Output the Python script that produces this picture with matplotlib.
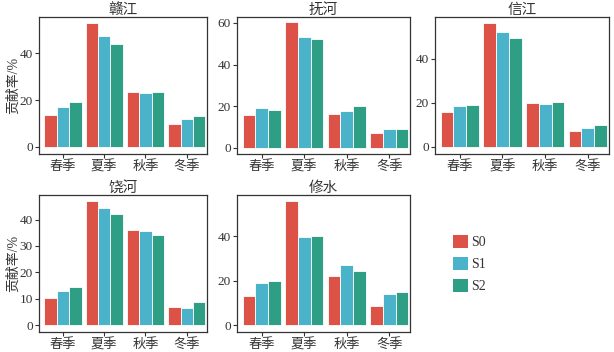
import numpy as np
import matplotlib
matplotlib.use('Agg')
from matplotlib import pyplot as plt
from matplotlib.patches import Patch

plt.rcParams['font.family'] = ['Liberation Serif', 'Noto Sans CJK SC']
plt.rcParams['font.size'] = 9

seasons = ['春季', '夏季', '秋季', '冬季']
scenarios = ['S0', 'S1', 'S2']
colors = ['#DC5246', '#4BB3C9', '#2E9E85']
txt = '#333333'

# contribution rate (%), rows = S0, S1, S2 ; columns = seasons
ganjiang = [[13.7, 53.0, 23.5, 9.8],
            [17.1, 47.6, 23.1, 12.0],
            [19.2, 43.9, 23.5, 13.2]]
fuhe     = [[16.0, 60.2, 16.5, 7.3],
            [19.4, 53.4, 17.5, 9.2],
            [18.0, 52.4, 19.9, 9.2]]
xinjiang = [[15.9, 56.4, 20.0, 7.3],
            [18.6, 52.3, 19.5, 8.6],
            [19.1, 49.5, 20.5, 10.0]]
raohe    = [[10.1, 47.1, 36.1, 6.9],
            [13.0, 44.4, 35.7, 6.5],
            [14.5, 42.1, 34.2, 8.8]]
xiushui  = [[13.0, 55.7, 22.0, 8.5],
            [18.9, 39.6, 27.0, 14.0],
            [19.8, 40.0, 24.3, 14.8]]

rivers = ['赣江', '抚河', '信江', '饶河', '修水']
data = [ganjiang, fuhe, xinjiang, raohe, xiushui]

# axes placement in figure fraction [left, bottom, width, height]
boxes = [[0.0635, 0.5625, 0.2736, 0.389],
         [0.386, 0.5625, 0.282, 0.389],
         [0.7085, 0.5625, 0.283, 0.389],
         [0.0635, 0.0568, 0.2736, 0.389],
         [0.386, 0.0568, 0.282, 0.389]]
ylims = [(-3.0, 55.5), (-2.9, 62.8), (-3.2, 59.0), (-2.65, 49.3), (-3.1, 58.4)]
yticks = [[0, 20, 40], [0, 20, 40, 60], [0, 20, 40], [0, 10, 20, 30, 40], [0, 20, 40]]

fig = plt.figure(figsize=(6.14, 3.52), dpi=100)
x = np.arange(len(seasons))
w = 0.3

for i, name in enumerate(rivers):
	ax = fig.add_axes(boxes[i])
	vals = np.array(data[i])
	for k in range(len(scenarios)):
		ax.bar(x + (k - 1)*w, vals[k], width=w, color=colors[k],
		       edgecolor='white', linewidth=0.6)
	ax.set_xlim(-0.58, 3.49)
	ax.set_ylim(*ylims[i])
	ax.set_yticks(yticks[i])
	ax.set_xticks(x)
	ax.set_xticklabels(seasons, fontsize=9.5)
	ax.tick_params(direction='out', length=3, width=0.8, colors=txt, labelsize=9.5, pad=1.5)
	for sp in ax.spines.values():
		sp.set_color(txt)
		sp.set_linewidth(0.9)
	ax.set_title(name, fontsize=10.5, color=txt, pad=1.5)
	if i in (0, 3):
		ax.set_ylabel('贡献率/%', fontsize=10, color=txt, labelpad=0)

handles = [Patch(facecolor=c, edgecolor='none') for c in colors]
fig.legend(handles, scenarios, loc='center left', bbox_to_anchor=(0.729, 0.25),
           frameon=False, fontsize=10, handlelength=1.1, handleheight=1.1,
           labelspacing=0.55, handletextpad=0.2, borderaxespad=0, labelcolor=txt)

plt.savefig('out.png', dpi=100)
plt.close()
